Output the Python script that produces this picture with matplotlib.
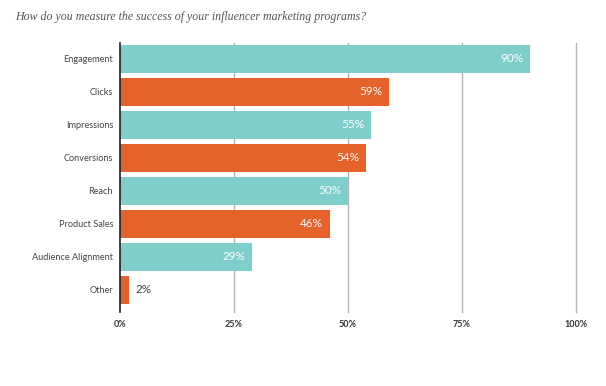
import matplotlib.pyplot as plt

# Survey data
categories = ["Engagement", "Clicks", "Impressions", "Conversions", "Reach",
              "Product Sales", "Audience Alignment", "Other"]
values = [90, 59, 55, 54, 50, 46, 29, 2]
xticks = [0, 25, 50, 75, 100]
xtick_labels = ["0%", "25%", "50%", "75%", "100%"]

teal = "#7ECEC9"
orange = "#E5632A"
colors = [teal if i % 2 == 0 else orange for i in range(len(values))]

fig = plt.figure(figsize=(6.06, 3.86), dpi=100)
ax = fig.add_axes([120 / 606, 1 - 312 / 386, 456 / 606, 269 / 386])

pos = list(range(len(categories)))
ax.barh(pos, values, height=0.86, color=colors, zorder=2)

ax.set_xlim(0, 100)
ax.set_ylim(7.67, -0.48)
ax.set_yticks(pos)
ax.set_yticklabels(categories, family="Lato", fontsize=6.6, color="#444444")
ax.set_xticks(xticks)
ax.set_xticklabels(xtick_labels, family="Lato", fontsize=6.5, fontweight="bold", color="#333333")
ax.tick_params(axis="both", length=0, pad=6)
ax.tick_params(axis="y", pad=5)

for x in xticks[1:]:
    ax.axvline(x, color="#B5B5B5", lw=1, zorder=1, clip_on=False)

for s in ["top", "right", "bottom"]:
    ax.spines[s].set_visible(False)
ax.spines["left"].set_color("#222222")
ax.spines["left"].set_linewidth(1.2)
ax.spines["left"].set_zorder(3)

# value labels
for p, v in zip(pos, values):
    if v > 10:
        ax.text(v - 1.5, p, f"{v}%", ha="right", va="center", color="white",
                family="Lato", fontsize=8.5)
    else:
        ax.text(v + 1.5, p, f"{v}%", ha="left", va="center", color="#444444",
                family="Lato", fontsize=8.5)

fig.text(15 / 606, 1 - 17 / 386, "How do you measure the success of your influencer marketing programs?",
         family="Liberation Serif", style="italic", fontsize=8.6, color="#555555", va="center")

fig.savefig("out.png", dpi=100)
